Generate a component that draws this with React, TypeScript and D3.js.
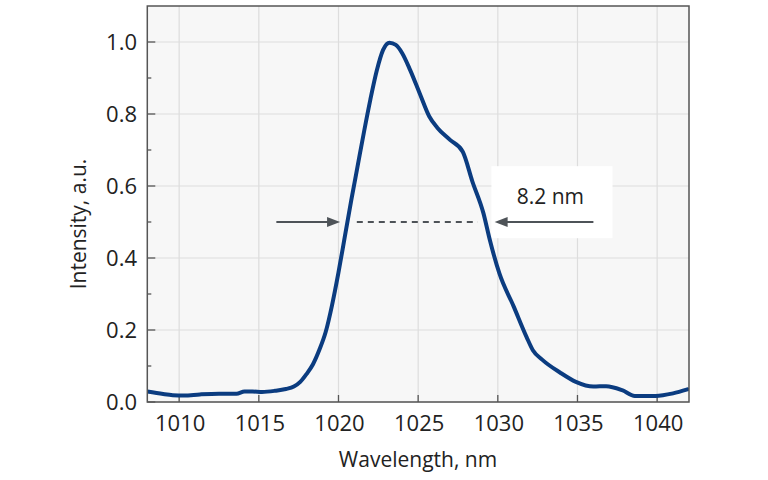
import React from "react";
import * as d3 from "d3";

const wavelength = [
  1008.0, 1009.0, 1009.6, 1010.3, 1011.3, 1012.5, 1013.6, 1014.1, 1014.6, 1015.2,
  1016.0, 1016.7, 1017.2, 1017.6, 1018.0, 1018.4, 1018.8, 1019.2, 1019.6, 1020.0,
  1020.4, 1020.8, 1021.2, 1021.6, 1022.0, 1022.4, 1022.8, 1023.2, 1023.6, 1024.0,
  1024.5, 1025.1, 1025.7, 1026.2, 1027.0, 1027.8, 1028.4, 1029.1, 1029.5, 1030.1,
  1031.0, 1031.8, 1032.2, 1032.8, 1033.9, 1034.9, 1036.0, 1036.8, 1037.8, 1038.6,
  1039.9, 1041.0, 1041.9,
];
const intensity = [
  0.029, 0.022, 0.019, 0.018, 0.021, 0.023, 0.023, 0.029, 0.029, 0.028,
  0.031, 0.036, 0.043, 0.056, 0.078, 0.105, 0.145, 0.195, 0.27, 0.36,
  0.46, 0.56, 0.655, 0.75, 0.84, 0.92, 0.978, 0.998, 0.992, 0.969,
  0.922, 0.857, 0.793, 0.762, 0.728, 0.695, 0.613, 0.524, 0.45, 0.357,
  0.265, 0.181, 0.144, 0.117, 0.082, 0.056, 0.043, 0.044, 0.033, 0.017,
  0.017, 0.024, 0.035,
];

const xTicks = [1010, 1015, 1020, 1025, 1030, 1035, 1040];
const yTicks = [0, 0.2, 0.4, 0.6, 0.8, 1.0];
const yMinorTicks = [0.1, 0.3, 0.5, 0.7, 0.9];

const fwhmLevel = 0.5;
const leftArrow = [1016.1, 1020.1];
const dashedSpan = [1021.15, 1028.75];
const rightArrow = [1036.0, 1029.8];
const labelPos = [1033.3, 0.55];
const labelBox = [1029.6, 1037.2, 0.655, 0.455];
const fwhmLabel = "8.2 nm";

const W = 768;
const H = 480;
const left = 147.3;
const right = 689;
const top = 6;
const bottom = 402;

const FONT = "'Open Sans', sans-serif";

export default function App() {
  const x = d3.scaleLinear().domain([1008, 1042]).range([left, right]);
  const y = d3.scaleLinear().domain([0, 1.1]).range([bottom, top]);
  const pts = wavelength.map((w, i) => [w, intensity[i]] as [number, number]);
  const line = d3
    .line<[number, number]>()
    .x((d) => x(d[0]))
    .y((d) => y(d[1]))
    .curve(d3.curveMonotoneX);

  const arrowColor = "#4e5358";
  const ay = y(fwhmLevel);
  const head = (tip: number, dir: number) => {
    const L = 13;
    const hw = 5;
    return `M${tip},${ay} L${tip - dir * L},${ay - hw} L${tip - dir * L},${ay + hw} Z`;
  };

  return (
    <svg width={W} height={H} style={{ position: "absolute", left: 0, top: 0 }}>
      <defs>
        <clipPath id="plotclip">
          <rect x={left} y={top} width={right - left} height={bottom - top} />
        </clipPath>
      </defs>
      <rect x={0} y={0} width={W} height={H} fill="#ffffff" />
      <rect x={left} y={top} width={right - left} height={bottom - top} fill="#f7f7f7" />
      {xTicks.map((t) => (
        <line key={"gx" + t} x1={x(t)} x2={x(t)} y1={top} y2={bottom} stroke="#dddddd" strokeWidth={1.2} />
      ))}
      {yTicks.map((t) => (
        <line key={"gy" + t} x1={left} x2={right} y1={y(t)} y2={y(t)} stroke="#dddddd" strokeWidth={1.2} />
      ))}
      <rect
        x={x(labelBox[0])}
        y={y(labelBox[2])}
        width={x(labelBox[1]) - x(labelBox[0])}
        height={y(labelBox[3]) - y(labelBox[2])}
        fill="#ffffff"
      />
      {xTicks.map((t) => (
        <line key={"tx" + t} x1={x(t)} x2={x(t)} y1={bottom} y2={bottom - 7} stroke="#555" strokeWidth={1.3} />
      ))}
      {yTicks.map((t) => (
        <line key={"ty" + t} x1={left} x2={left + 8} y1={y(t)} y2={y(t)} stroke="#555" strokeWidth={1.3} />
      ))}
      {yMinorTicks.map((t) => (
        <line key={"tym" + t} x1={left} x2={left + 4} y1={y(t)} y2={y(t)} stroke="#555" strokeWidth={1.3} />
      ))}
      <line x1={x(leftArrow[0])} x2={x(leftArrow[1]) - 10} y1={ay} y2={ay} stroke={arrowColor} strokeWidth={2} />
      <path d={head(x(leftArrow[1]), 1)} fill={arrowColor} />
      <line x1={x(rightArrow[0])} x2={x(rightArrow[1]) + 10} y1={ay} y2={ay} stroke={arrowColor} strokeWidth={2} />
      <path d={head(x(rightArrow[1]), -1)} fill={arrowColor} />
      <line
        x1={x(dashedSpan[0])}
        x2={x(dashedSpan[1])}
        y1={ay}
        y2={ay}
        stroke={arrowColor}
        strokeWidth={2}
        strokeDasharray="6,5"
      />
      <text x={x(labelPos[0])} y={y(labelPos[1])} textAnchor="middle" fontFamily={FONT} fontSize={21} fill="#222">
        {fwhmLabel}
      </text>
      <path
        d={line(pts) || ""}
        fill="none"
        stroke="#0b3c80"
        strokeWidth={4}
        strokeLinejoin="round"
        strokeLinecap="round"
        clipPath="url(#plotclip)"
      />
      <rect x={left} y={top} width={right - left} height={bottom - top} fill="none" stroke="#555" strokeWidth={1.5} />
      {xTicks.map((t) => (
        <text key={"lx" + t} x={x(t) + 1} y={431} textAnchor="middle" fontFamily={FONT} fontSize={22} fill="#222">
          {t}
        </text>
      ))}
      {yTicks.map((t) => (
        <text
          key={"ly" + t}
          x={137}
          y={y(t) + 8}
          textAnchor="end"
          fontFamily={FONT}
          fontSize={22}
          fill="#222"
        >
          {t.toFixed(1)}
        </text>
      ))}
      <text x={418} y={467} textAnchor="middle" fontFamily={FONT} fontSize={21} fill="#222">
        Wavelength, nm
      </text>
      <text
        transform={`translate(86, ${(top + bottom) / 2 + 20}) rotate(-90)`}
        textAnchor="middle"
        fontFamily={FONT}
        fontSize={21}
        fill="#222"
      >
        Intensity, a.u.
      </text>
    </svg>
  );
}
